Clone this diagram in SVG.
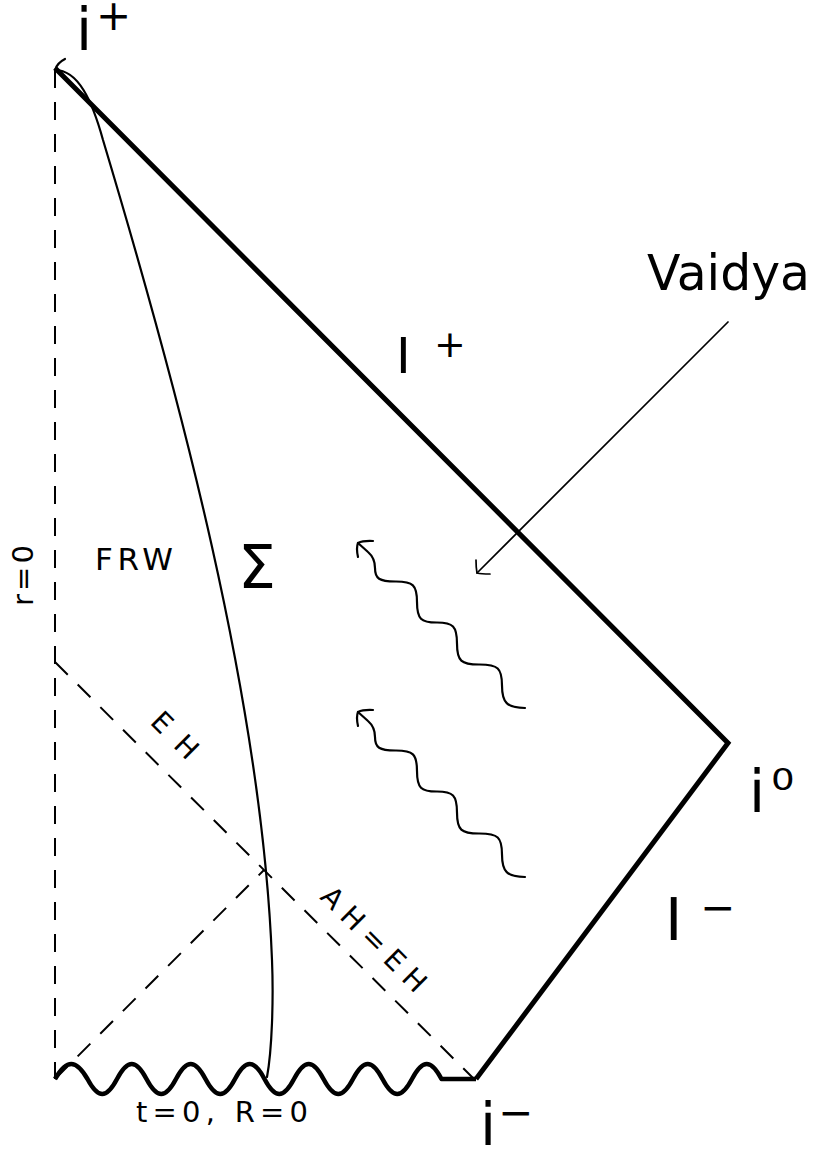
<svg xmlns="http://www.w3.org/2000/svg" width="816" height="1150" viewBox="0 0 816 1150">
<style>
text{font-family:"DejaVu Sans","Liberation Sans",sans-serif;fill:#000}
.thick{fill:none;stroke:#000;stroke-width:5;stroke-linejoin:miter}
.wave{fill:none;stroke:#000;stroke-width:4.5;stroke-linejoin:round}
.dash{fill:none;stroke:#000;stroke-width:2;stroke-dasharray:18 14}
.thin{fill:none;stroke:#000;stroke-width:2.2;stroke-linecap:round;stroke-linejoin:round}
.hair{fill:none;stroke:#000;stroke-width:1.7;stroke-linecap:round;stroke-linejoin:round}
</style>
<defs>
<g id="squiggle">
<path class="thin" d="M525,708 C507,707.5 502,703 502,685.5 C502,668 498,664.6 479.5,664.5 C461,664.6 457,661 457,643.5 C457,626 453,622.5 437,622.5 C421,622.6 417,619 417,602 C417,585 413,581.5 396,581.5 C379,581.6 375,578.6 375,568 Q375,558 368,552 L358,543"/>
<path class="thin" d="M373,541 Q363,540.5 358,543 Q356,548 358,557"/>
</g>
</defs>
<g id="boundary">
<path class="thick" d="M476,1079 L728,743 L55,68"/>
<path id="singularity" class="wave" d="M55,1079 C66.7,1059 75.8,1059 87.5,1079 C98.1,1099 106.4,1099 117,1079 C127.6,1059 135.9,1059 146.5,1079 C157.1,1099 165.4,1099 176,1079 C186.6,1059 194.9,1059 205.5,1079 C216.1,1099 224.4,1099 235,1079 C245.6,1059 253.9,1059 264.5,1079 C275.1,1099 283.4,1099 294,1079 C304.6,1059 312.9,1059 323.5,1079 C334.1,1099 342.4,1099 353,1079 C363.6,1059 371.9,1059 382.5,1079 C393.1,1099 401.4,1099 412,1079 C422.6,1059 430.9,1059 441.5,1079 L476,1079"/>
</g>
<g id="connectors">
<path class="dash" d="M55,70 L55,1079"/>
<path class="dash" d="M55,662 L474,1079"/>
<path class="dash" d="M55,1079 L264,870"/>
<path id="sigma-curve" class="thin" d="M55,70 C78,70 92,100 103,140 C178,390 262,700 272,960 C273.6,1000 272,1050 267,1077"/>
<path class="thin" d="M65,59 Q57,63 55,70"/>
<path class="hair" d="M728,322 L477,573"/>
<path class="hair" d="M490,574 Q481,574 477,573 Q476,568 476,560"/>
</g>
<g id="radiation1"><use href="#squiggle"/></g>
<g id="radiation2"><use href="#squiggle" transform="translate(0,169)"/></g>
<g id="labels">
<text x="76" y="50" font-size="58">i</text>
<text x="96" y="30" font-size="42">+</text>
<text x="396" y="373" font-size="50">I</text>
<text x="434" y="357" font-size="38">+</text>
<text x="647" y="290" font-size="50" textLength="163" lengthAdjust="spacingAndGlyphs">Vaidya</text>
<text x="749" y="812" font-size="58">i</text>
<text transform="translate(771,790) scale(1.2,1)" x="0" y="0" font-size="31">0</text>
<text x="665" y="940" font-size="59">I</text>
<text x="700" y="922" font-size="42">−</text>
<text x="480" y="1145" font-size="58">i</text>
<text x="498" y="1127" font-size="42">−</text>
<text x="95" y="570" font-size="31" textLength="78" lengthAdjust="spacing">FRW</text>
<text x="238" y="588" font-size="60">Σ</text>
<text transform="translate(33,606) rotate(-90)" x="0" y="0" font-size="29" textLength="61" lengthAdjust="spacing">r=0</text>
<text transform="translate(168,742) rotate(45)" x="-27" y="0" font-size="28" textLength="54" lengthAdjust="spacing">EH</text>
<text transform="translate(367,946) rotate(45)" x="-68" y="0" font-size="28" textLength="136" lengthAdjust="spacing">AH=EH</text>
<text x="136" y="1122" font-size="29" textLength="172" lengthAdjust="spacing">t=0,  R=0</text>
</g>
</svg>
